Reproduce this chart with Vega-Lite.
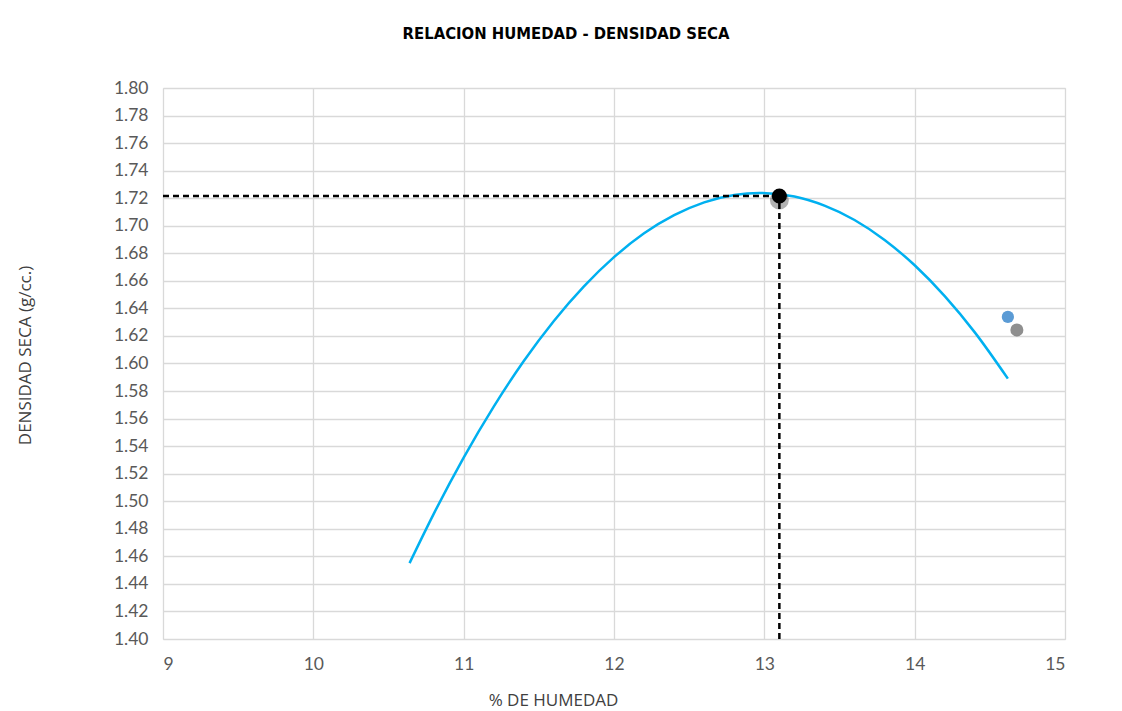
{
  "$schema": "https://vega.github.io/schema/vega-lite/v6.json",
  "width": 902,
  "height": 551,
  "autosize": "none",
  "padding": {"left": 163, "top": 88, "right": 57, "bottom": 72},
  "background": "white",
  "title": {
    "text": "RELACION HUMEDAD - DENSIDAD SECA",
    "anchor": "middle",
    "dx": -48,
    "offset": 37,
    "font": "Liberation Sans Narrow, DejaVu Sans Condensed, sans-serif",
    "fontSize": 16.5,
    "fontWeight": "bold",
    "color": "#000000"
  },
  "config": {
    "view": {"stroke": "#d9d9d9", "strokeWidth": 1},
    "axis": {
      "labelFont": "Lato",
      "labelFontSize": 17.5,
      "labelColor": "#595959",
      "labelOverlap": false,
      "titleFont": "Open Sans",
      "titleFontSize": 17,
      "titleFontWeight": "normal",
      "titleColor": "#404040",
      "gridColor": "#d9d9d9",
      "gridWidth": 1.3,
      "domain": false,
      "ticks": false
    }
  },
  "datasets": {
    "curve": [
      {"h": 10.64, "d": 1.4551},
      {"h": 10.8, "d": 1.4907},
      {"h": 11.0, "d": 1.5317},
      {"h": 11.2, "d": 1.5687},
      {"h": 11.4, "d": 1.6018},
      {"h": 11.6, "d": 1.6309},
      {"h": 11.8, "d": 1.656},
      {"h": 12.0, "d": 1.6772},
      {"h": 12.2, "d": 1.6945},
      {"h": 12.4, "d": 1.7077},
      {"h": 12.6, "d": 1.717},
      {"h": 12.8, "d": 1.7224},
      {"h": 12.97, "d": 1.7238},
      {"h": 13.2, "d": 1.7212},
      {"h": 13.4, "d": 1.7146},
      {"h": 13.6, "d": 1.7042},
      {"h": 13.8, "d": 1.6897},
      {"h": 14.0, "d": 1.6713},
      {"h": 14.2, "d": 1.6489},
      {"h": 14.4, "d": 1.6226},
      {"h": 14.62, "d": 1.589}
    ],
    "opt": [{"h0": 9, "h": 13.1, "d0": 1.4, "d": 1.7216}],
    "pts": [{"h": 14.62, "d": 1.6338}]
  },
  "layer": [
    {
      "data": {"name": "curve"},
      "mark": {"type": "line", "color": "#00b0f0", "strokeWidth": 2.5, "interpolate": "monotone"},
      "encoding": {
        "x": {
          "field": "h", "type": "quantitative",
          "scale": {"domain": [9, 15], "nice": false},
          "axis": {"values": [9, 10, 11, 12, 13, 14, 15], "tickCount": 30, "format": "d", "labelPadding": 16, "title": "% DE HUMEDAD", "titleY": 61, "titleBaseline": "middle", "titleX": 390}
        },
        "y": {
          "field": "d", "type": "quantitative",
          "scale": {"domain": [1.4, 1.8], "nice": false, "zero": false},
          "axis": {
            "values": [1.4, 1.42, 1.44, 1.46, 1.48, 1.5, 1.52, 1.54, 1.56, 1.58, 1.6, 1.62, 1.64, 1.66, 1.68, 1.7, 1.72, 1.74, 1.76, 1.78, 1.8],
            "tickCount": 40,
            "format": ".2f", "labelPadding": 15,
            "title": "DENSIDAD SECA (g/cc.)", "titleX": -138, "titleY": 267, "titleBaseline": "middle"
          }
        }
      }
    },
    {
      "data": {"name": "opt"},
      "mark": {"type": "rule", "color": "#000000", "strokeWidth": 2.5, "strokeDash": [6, 4]},
      "encoding": {
        "x": {"field": "h0", "type": "quantitative"},
        "x2": {"field": "h"},
        "y": {"field": "d", "type": "quantitative"}
      }
    },
    {
      "data": {"name": "opt"},
      "mark": {"type": "rule", "color": "#000000", "strokeWidth": 2.5, "strokeDash": [6, 4]},
      "encoding": {
        "x": {"field": "h", "type": "quantitative"},
        "y": {"field": "d0", "type": "quantitative"},
        "y2": {"field": "d"}
      }
    },
    {
      "data": {"name": "opt"},
      "mark": {"type": "point", "filled": true, "shape": "circle", "color": "#000000", "opacity": 0.3, "size": 360, "yOffset": 4},
      "encoding": {
        "x": {"field": "h", "type": "quantitative"},
        "y": {"field": "d", "type": "quantitative"}
      }
    },
    {
      "data": {"name": "opt"},
      "mark": {"type": "point", "filled": true, "shape": "circle", "color": "#000000", "opacity": 1, "size": 230},
      "encoding": {
        "x": {"field": "h", "type": "quantitative"},
        "y": {"field": "d", "type": "quantitative"}
      }
    },
    {
      "data": {"name": "pts"},
      "mark": {"type": "point", "filled": true, "shape": "circle", "color": "#444444", "opacity": 0.6, "size": 170, "xOffset": 9, "yOffset": 13},
      "encoding": {
        "x": {"field": "h", "type": "quantitative"},
        "y": {"field": "d", "type": "quantitative"}
      }
    },
    {
      "data": {"name": "pts"},
      "mark": {"type": "point", "filled": true, "shape": "circle", "color": "#5b9bd5", "opacity": 1, "size": 150},
      "encoding": {
        "x": {"field": "h", "type": "quantitative"},
        "y": {"field": "d", "type": "quantitative"}
      }
    }
  ]
}
